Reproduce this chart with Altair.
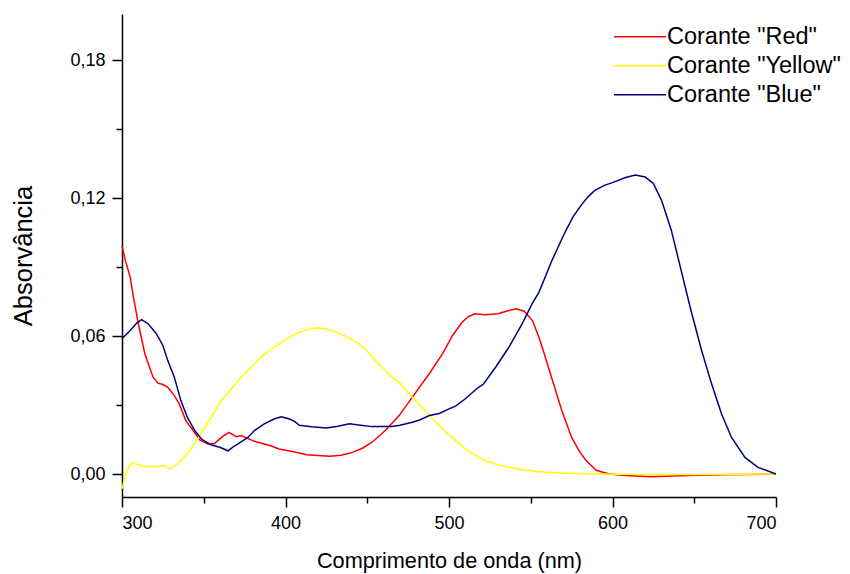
import altair as alt
import pandas as pd

# ---- data ----
red_nm = [300, 302, 305, 307, 310, 314, 319, 322, 325, 328, 332, 335, 339, 343.5, 347.6,
          352.6, 356.7, 360.8, 365.4, 369.9, 372.9, 381, 391, 396, 405, 413, 420, 427, 434,
          441, 447, 453, 461, 469.5, 477.6, 487.8, 496, 502, 508, 512, 516, 522, 530, 535,
          541, 546, 551, 555, 557, 563, 569, 575, 580, 584, 590, 598, 608, 624, 646, 667, 700]
red_abs = [0.099, 0.093, 0.0856, 0.0769, 0.0653, 0.0522, 0.0421, 0.0395, 0.0389, 0.0377,
           0.0341, 0.0305, 0.0232, 0.0189, 0.0148, 0.0131, 0.0133, 0.0159, 0.0181, 0.0162,
           0.0167, 0.0142, 0.0123, 0.0109, 0.0097, 0.0084, 0.0080, 0.0077, 0.0082, 0.0094,
           0.0112, 0.0138, 0.0189, 0.0254, 0.0334, 0.0435, 0.0522, 0.0600, 0.0660, 0.0685,
           0.0697, 0.0692, 0.0697, 0.0708, 0.0718, 0.0708, 0.0667, 0.0595, 0.0551, 0.0413,
           0.0276, 0.0159, 0.0095, 0.0058, 0.0016, 0.0, -0.0007, -0.0012, -0.0007, -0.0003, 0.0]

yellow_nm = [300, 301.5, 303, 306, 309, 312, 316, 320, 324, 326, 329, 333, 336, 340, 344.5,
             352.6, 360.8, 366, 373, 379, 385, 393, 399, 406, 412, 419, 425, 431, 438, 445,
             450, 455, 465, 470, 477.6, 488, 494, 500, 510, 518, 522, 530, 537, 545, 555,
             571, 590, 620, 650, 680, 700]
yellow_abs = [-0.0065, -0.002, 0.0014, 0.0048, 0.0043, 0.0036, 0.0034, 0.0032, 0.0036, 0.0036,
              0.0022, 0.0038, 0.0058, 0.009, 0.0131, 0.0225, 0.0319, 0.0363, 0.0421, 0.0464,
              0.0508, 0.0551, 0.0580, 0.0608, 0.0625, 0.0636, 0.0630, 0.0617, 0.0595, 0.0566,
              0.0533, 0.0493, 0.0421, 0.0395, 0.0334, 0.0255, 0.021, 0.017, 0.0109, 0.0072,
              0.0058, 0.0040, 0.0029, 0.0018, 0.0010, 0.0003, 0.0, -0.0002, -0.0002, -0.0001, 0.0]

blue_nm = [300, 305, 309, 312, 316, 321, 325, 328, 332, 336, 340, 344.5, 348.6, 354.7, 359.8,
           364.8, 368, 371, 377, 381, 387, 393, 397.4, 402, 405.5, 408.5, 416, 425, 432, 439,
           446, 453, 460, 465, 470, 477.6, 482, 488, 494, 500, 504, 510, 518, 521, 528.5,
           536.6, 544.7, 550.8, 555, 563, 571, 576, 581, 585, 589, 595, 600, 608, 614, 620,
           625, 630, 636, 642, 648, 654.5, 660.6, 666.7, 672.8, 681, 689, 700]
blue_abs = [0.0588, 0.0624, 0.0656, 0.0671, 0.0653, 0.0610, 0.0559, 0.0493, 0.0421, 0.0319,
            0.0246, 0.0189, 0.0152, 0.0126, 0.0116, 0.0101, 0.0118, 0.0131, 0.0159, 0.0189,
            0.0218, 0.0239, 0.0249, 0.0240, 0.0229, 0.0212, 0.0205, 0.0200, 0.0208, 0.0218,
            0.0212, 0.0206, 0.0206, 0.0207, 0.0212, 0.0225, 0.0235, 0.0254, 0.0263, 0.0283,
            0.0295, 0.0327, 0.0377, 0.0390, 0.0464, 0.0551, 0.0653, 0.0740, 0.0790, 0.0929,
            0.1052, 0.1120, 0.1170, 0.1205, 0.1232, 0.1255, 0.1267, 0.1289, 0.1300, 0.1291,
            0.1263, 0.1190, 0.1059, 0.0885, 0.0711, 0.0537, 0.0392, 0.0261, 0.0159, 0.0072,
            0.0029, 0.0]

series = ['Corante "Red"', 'Corante "Yellow"', 'Corante "Blue"']
colors = ["#FF0000", "#FFFF00", "#000080"]

x_major = [300, 400, 500, 600, 700]
x_minor = [350, 450, 550, 650]
y_major = [0.0, 0.06, 0.12, 0.18]
y_minor = [0.03, 0.09, 0.15]

rows = []
for name, xs, ys in zip(series, [red_nm, yellow_nm, blue_nm], [red_abs, yellow_abs, blue_abs]):
    for a, b in zip(xs, ys):
        rows.append({"serie": name, "nm": a, "abs": b})
df = pd.DataFrame(rows)

FONT = "Liberation Sans"
xscale = alt.Scale(domain=[300, 700], nice=False, zero=False)
yscale = alt.Scale(domain=[-0.01, 0.2], nice=False, zero=False)
label_expr = "replace(format(datum.value, '.2f'), '.', ',')"

common_axis = dict(grid=False, domainColor="black", tickColor="black", tickWidth=1.5,
                   domainWidth=1.5, labelColor="black", labelFont=FONT, titleFont=FONT,
                   titleColor="black", titleFontWeight="normal")

main = alt.Chart(df).mark_line(strokeWidth=1.5).encode(
    x=alt.X("nm:Q", scale=xscale,
            axis=alt.Axis(values=x_major, orient="bottom", tickSize=10, labelFontSize=18,
                          labelPadding=7, title="Comprimento de onda (nm)", titleFontSize=21.7,
                          titleBaseline="alphabetic", titleY=70, **common_axis)),
    y=alt.Y("abs:Q", scale=yscale,
            axis=alt.Axis(values=y_major, orient="left", tickSize=10, labelFontSize=18,
                          labelPadding=7, labelExpr=label_expr, title="Absorvância",
                          titleFontSize=25.5, titleBaseline="alphabetic", titleX=-91,
                          titleAngle=270, **common_axis)),
    color=alt.Color("serie:N", scale=alt.Scale(domain=series, range=colors),
                    legend=alt.Legend(title=None, orient="none", legendX=491, legendY=8.5,
                                      symbolType="stroke", symbolSize=2704,
                                      symbolStrokeWidth=1.5, labelFontSize=23.5,
                                      labelFont=FONT, labelColor="black", labelOffset=0,
                                      labelLimit=400, clipHeight=28.5, rowPadding=0,
                                      padding=0)),
)

minor = alt.Chart(df).mark_line(strokeOpacity=0).encode(
    x=alt.X("nm:Q", scale=xscale,
            axis=alt.Axis(values=x_minor, orient="bottom", tickSize=6, labels=False,
                          domain=False, grid=False, title=None, tickColor="black",
                          tickWidth=1.5)),
    y=alt.Y("abs:Q", scale=yscale,
            axis=alt.Axis(values=y_minor, orient="left", tickSize=6, labels=False,
                          domain=False, grid=False, title=None, tickColor="black",
                          tickWidth=1.5)),
    detail="serie:N",
)

chart = alt.layer(main, minor).resolve_axis(x="independent", y="independent").properties(
    width=654, height=483, autosize="none",
    padding={"left": 114, "top": 6, "right": 66, "bottom": 77},
).configure_view(stroke=None)

chart.save("out.html", embed_options={"renderer": "svg", "actions": False})
